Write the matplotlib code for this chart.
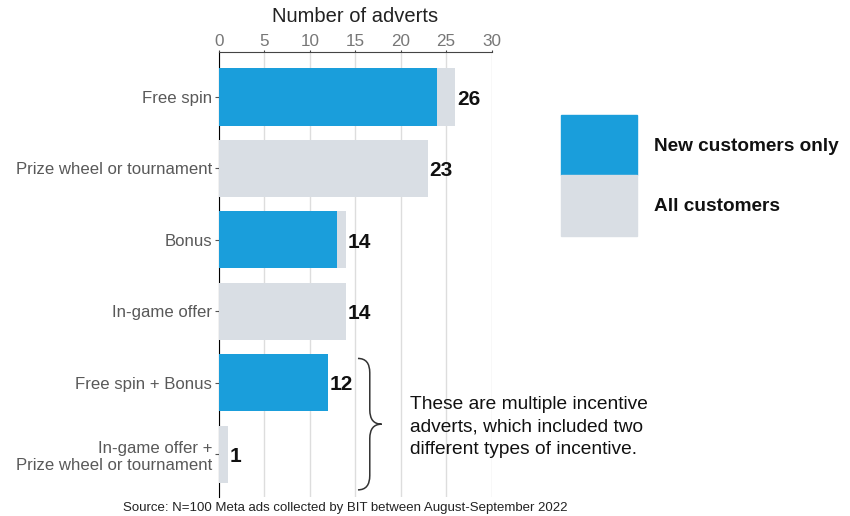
import matplotlib.pyplot as plt
from matplotlib.path import Path
from matplotlib.patches import PathPatch, Rectangle
import numpy as np

plt.rcParams["font.family"] = ["Liberation Sans", "DejaVu Sans"]

categories = ["Free spin", "Prize wheel or tournament", "Bonus", "In-game offer",
              "Free spin + Bonus", "In-game offer +\nPrize wheel or tournament"]
new_only = [24, 0, 13, 0, 12, 0]
all_cust = [2, 23, 1, 14, 0, 1]
xticks = [0, 5, 10, 15, 20, 25, 30]
series_names = ["New customers only", "All customers"]

BLUE = "#1a9edb"
GREY = "#d9dee4"

fig = plt.figure(figsize=(8.5, 5.16), dpi=100)
ax = fig.add_axes([0.2576, 0.0368, 0.3212, 0.8624])

y = np.arange(len(categories))
new_arr = np.array(new_only)
all_arr = np.array(all_cust)
ax.barh(y, new_arr, height=0.8, color=BLUE, zorder=3)
ax.barh(y, all_arr, left=new_arr, height=0.8, color=GREY, zorder=3)

totals = new_arr + all_arr
for yi, t in zip(y, totals):
    ax.text(t + 0.2, yi + 0.03, str(t), va="center", ha="left", fontsize=15,
            fontweight="bold", color="#111111")

ax.set_xlim(0, 30.05)
ax.set_ylim(5.6, -0.63)
ax.set_xticks(xticks)
ax.xaxis.tick_top()
ax.xaxis.set_label_position("top")
ax.set_xlabel("Number of adverts", fontsize=14.5, color="#222222", labelpad=9)
ax.tick_params(axis="x", color="#444444", labelsize=12.3, length=1.5, pad=0.5,
               labelcolor="#777777")
ax.tick_params(axis="y", length=3, color="#555555", labelsize=12.1,
               labelcolor="#595959", pad=2)
ax.set_yticks(y)
ax.set_yticklabels(categories)
ax.grid(axis="x", color="#dddddd", linewidth=1, zorder=0)
for s in ["right", "bottom"]:
    ax.spines[s].set_visible(False)
ax.spines["left"].set_color("black")
ax.spines["top"].set_color("#444444")

# brace
x0, x1, x2 = 15.3, 16.6, 17.9
yt, yb = 3.66, 5.5
ym = (yt + yb) / 2
r = 0.2
verts = [(x0, yt), (x1, yt), (x1, yt + r), (x1, yt + r),
         (x1, ym - r), (x1, ym), (x2, ym),
         (x1, ym), (x1, ym + r), (x1, ym + r),
         (x1, yb - r), (x1, yb), (x0, yb)]
codes = [Path.MOVETO, Path.CURVE3, Path.CURVE3, Path.LINETO,
         Path.LINETO, Path.CURVE3, Path.CURVE3,
         Path.CURVE3, Path.CURVE3, Path.LINETO,
         Path.LINETO, Path.CURVE3, Path.CURVE3]
ax.add_patch(PathPatch(Path(verts, codes), fill=False, lw=1.1,
                       edgecolor="#333333", clip_on=False))

fig.text(410 / 850, 1 - 427 / 516, "These are multiple incentive\nadverts, which included two\n"
         "different types of incentive.", fontsize=13.8, color="#111111",
         va="center", ha="left", linespacing=1.4)

# legend drawn as figure patches
for i, (name, col) in enumerate(zip(series_names, [BLUE, GREY])):
    top = 115 + i * 60.5
    fig.patches.append(Rectangle((561 / 850, 1 - (top + 60.5) / 516), 76 / 850, 60.5 / 516,
                                 transform=fig.transFigure, color=col))
    fig.text(654 / 850, 1 - (top + 31) / 516, name, fontsize=13.7, fontweight="bold",
             color="#111111", va="center", ha="left")

fig.text(0.406, 1 - 508 / 516, "Source: N=100 Meta ads collected by BIT between August-September 2022",
         fontsize=9.5, color="#222222", ha="center", va="center")

fig.savefig("out.png", dpi=100)
